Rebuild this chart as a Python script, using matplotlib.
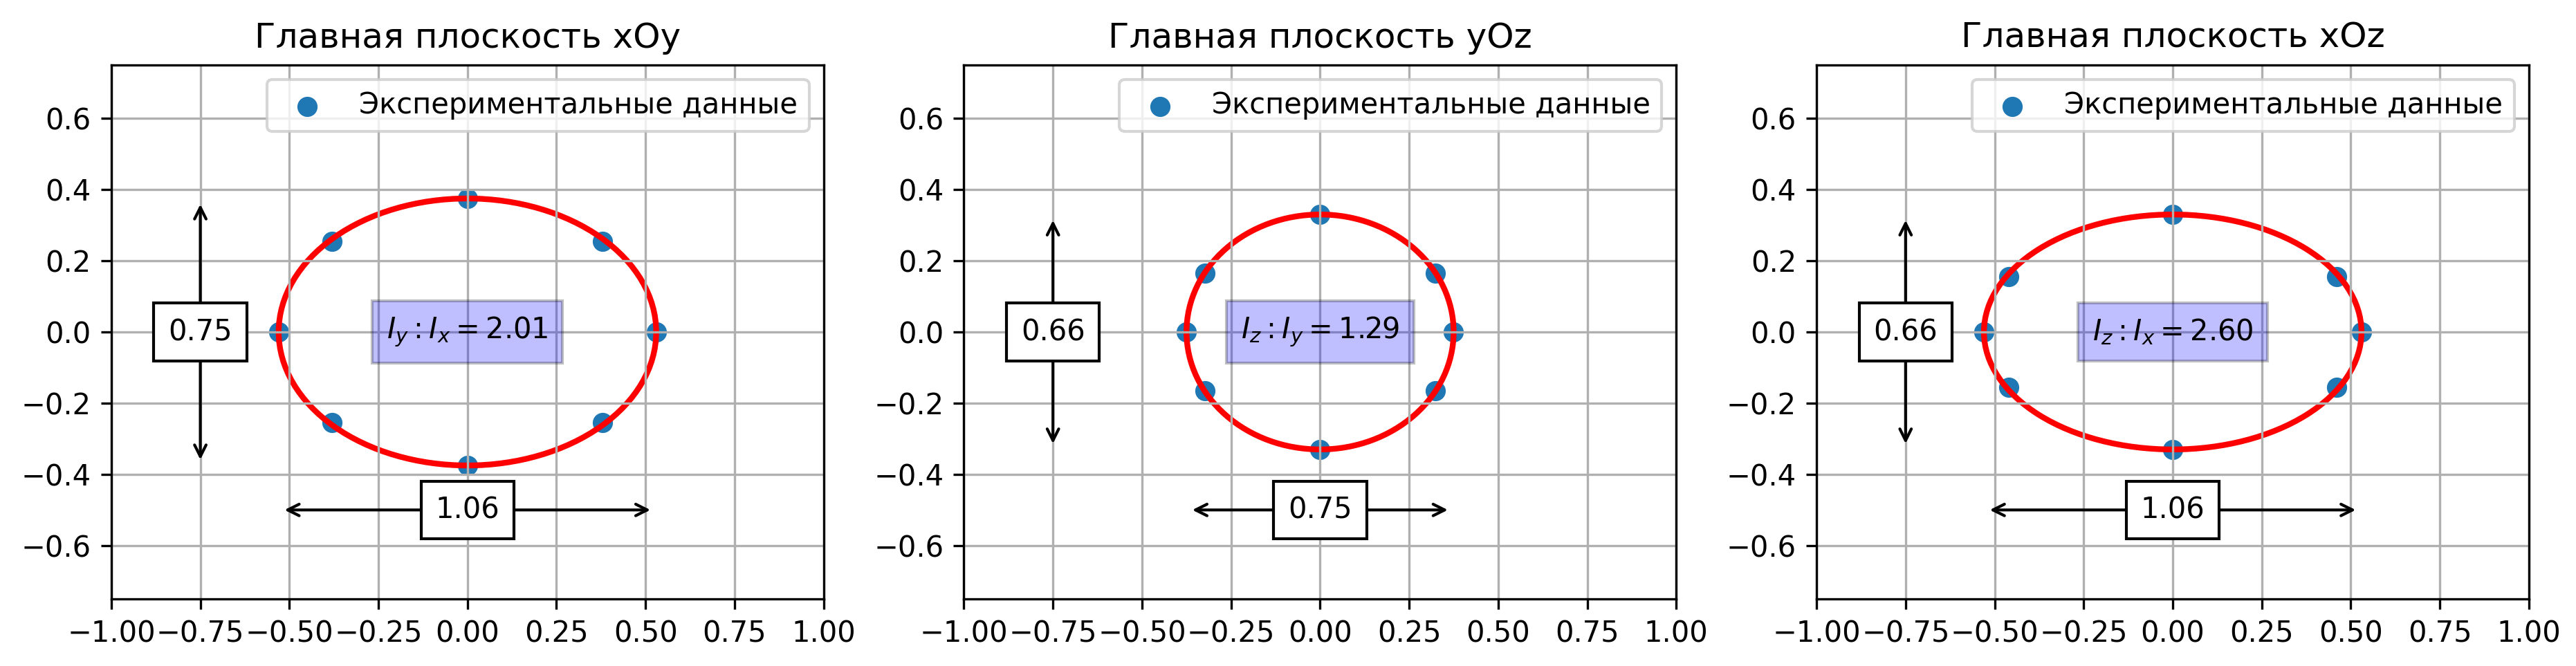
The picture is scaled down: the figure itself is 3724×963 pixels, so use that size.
import numpy as np
import matplotlib
matplotlib.use('Agg')
import matplotlib.pyplot as plt
from matplotlib.patches import Ellipse

# Data
titles = ['Главная плоскость xOy', 'Главная плоскость yOz', 'Главная плоскость xOz']
ratio_labels = ['$I_y : I_x = 2.01$', '$I_z : I_y = 1.29$', '$I_z : I_x = 2.60$']

# experimental points (x, y) per plane
pts_x = [
    [0.53, 0.38, 0.0, -0.38, -0.53, -0.38, 0.0, 0.38],
    [0.375, 0.323, 0.0, -0.323, -0.375, -0.323, 0.0, 0.323],
    [0.53, 0.46, 0.0, -0.46, -0.53, -0.46, 0.0, 0.46],
]
pts_y = [
    [0.0, 0.255, 0.375, 0.255, 0.0, -0.255, -0.375, -0.255],
    [0.0, 0.165, 0.33, 0.165, 0.0, -0.165, -0.33, -0.165],
    [0.0, 0.155, 0.33, 0.155, 0.0, -0.155, -0.33, -0.155],
]

# fitted ellipse full axes
widths = [1.06, 0.75, 1.06]
heights = [0.75, 0.66, 0.66]

fig, axes = plt.subplots(1, 3, figsize=(3724 / 300, 963 / 300), dpi=300)
fig.subplots_adjust(left=0.0432, right=0.9817, bottom=0.1007, top=0.9024, wspace=0.197)

for i, ax in enumerate(axes):
    ax.scatter(pts_x[i], pts_y[i], label='Экспериментальные данные')
    ax.add_patch(Ellipse((0, 0), widths[i], heights[i], fill=False, color='red', lw=2))

    # vertical size
    ax.annotate('', xy=(-0.75, heights[i] / 2), xytext=(-0.75, -heights[i] / 2),
                arrowprops=dict(arrowstyle='<->', color='black'))
    ax.text(-0.75, 0, f'{heights[i]:.2f}', ha='center', va='center',
            bbox=dict(facecolor='white', edgecolor='black', pad=5))

    # horizontal size
    ax.annotate('', xy=(widths[i] / 2, -0.5), xytext=(-widths[i] / 2, -0.5),
                arrowprops=dict(arrowstyle='<->', color='black'))
    ax.text(0, -0.5, f'{widths[i]:.2f}', ha='center', va='center',
            bbox=dict(facecolor='white', edgecolor='black', pad=5))

    ax.text(0, 0, ratio_labels[i], ha='center', va='center',
            bbox=dict(facecolor='blue', alpha=0.25, pad=5))

    ax.set_xlim(-1, 1)
    ax.set_ylim(-0.75, 0.75)
    ax.set_xticks(np.arange(-1, 1.01, 0.25))
    ax.set_yticks([-0.6, -0.4, -0.2, 0.0, 0.2, 0.4, 0.6])
    ax.grid()
    ax.legend(loc='upper right')
    ax.set_title(titles[i])

plt.savefig('out.png', dpi=300)
